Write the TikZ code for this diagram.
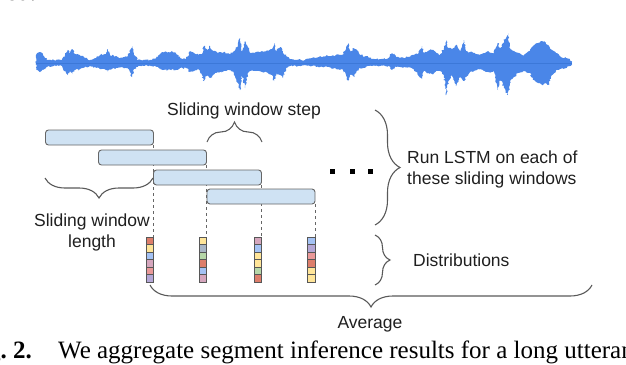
\documentclass[tikz,border=0pt]{standalone}
\usepackage{fontspec}
\setmainfont{Liberation Serif}
\setsansfont{Liberation Sans}
\usetikzlibrary{decorations.pathreplacing,decorations.pathmorphing,backgrounds}

\definecolor{waveblue}{HTML}{4A86E8}
\definecolor{wavedark}{HTML}{3C78D8}
\definecolor{boxfill}{HTML}{CFE2F3}
\definecolor{boxline}{HTML}{666666}
\definecolor{bracegray}{HTML}{595959}
\definecolor{cRed}{HTML}{DD7E6B}
\definecolor{cYellow}{HTML}{FFE599}
\definecolor{cBlue}{HTML}{A4C2F4}
\definecolor{cPink}{HTML}{D5A6BD}
\definecolor{cSalmon}{HTML}{EA9999}
\definecolor{cPurple}{HTML}{B4A7D6}
\definecolor{cSlate}{HTML}{A9B6C6}
\definecolor{cGreen}{HTML}{B6D7A8}

\tikzset{
  winbox/.style={draw=boxline, fill=boxfill, line width=0.9pt, rounded corners=3pt,
    minimum width=108pt, minimum height=15pt, inner sep=0pt, outer sep=0pt},
  cell/.style={draw=boxline!85!black, line width=0.9pt, minimum width=7.5pt,
    minimum height=7.5pt, inner sep=0pt, outer sep=0pt},
  guide/.style={draw=boxline, dashed, line width=0.7pt},
  brc/.style={draw=bracegray, line width=1.1pt, decorate, decoration={brace, amplitude=#1}},
  lbl/.style={font=\sffamily\fontsize{17.5}{21}\selectfont, text=black!88, inner sep=0pt},
  dotsq/.style={fill=black, minimum size=5pt, inner sep=0pt},
  capt/.style={font=\fontsize{25}{29}\selectfont, inner sep=0pt},
}

% envelope of the waveform: x / upper / lower
\def\wavedata{36/8/7, 40/11/9, 44/7/6, 48/3/3, 56/3/3, 62/3/3, 66/10/10, 68/13/12,
  70/10/8, 72/14/11, 75/9/7, 80/8/6, 85/5/4, 90/3/3, 95/5/4, 100/8/6, 106/10/7,
  108/14/9, 110/8/6, 116/7/5, 122/5/4, 128/7/6, 132/17/14, 134/8/6, 138/3/3,
  145/3/2, 152/3/3, 158/6/4, 163/11/7, 168/11/7, 172/12/6, 176/10/7, 180/5/5,
  186/4/5, 190/12/9, 194/10/8, 198/8/6, 202/9/12, 204/17/18, 207/13/12, 210/17/15,
  213/12/12, 218/10/9, 224/11/8, 229/9/7, 234/12/10, 238/18/20, 240/25/27,
  242/10/12, 245/22/25, 247/18/14, 250/10/8, 256/11/8, 262/12/9, 268/12/10,
  272/14/12, 274/20/18, 276/12/10, 280/16/12, 283/12/15, 286/7/5, 290/4/3,
  296/3/3, 304/3/2, 312/5/3, 320/7/4, 328/7/4, 336/8/6, 342/8/6, 346/14/12,
  348/20/18, 350/10/12, 354/15/14, 356/14/10, 360/8/5, 366/7/4, 372/4/3,
  380/4/3, 388/5/3, 392/10/7, 396/6/4, 400/5/4, 408/6/4, 414/8/6, 418/9/12,
  422/17/16, 424/10/8, 428/12/10, 432/13/11, 436/10/8, 440/8/8, 444/15/13,
  446/23/32, 448/15/20, 452/14/12, 456/18/23, 460/12/14, 464/23/18, 466/12/14,
  470/11/9, 474/10/8, 480/8/6, 484/10/8, 488/12/9, 494/10/8, 498/20/27,
  500/14/16, 504/22/25, 508/30/32, 510/15/18, 514/12/14, 518/10/10, 524/8/8,
  530/12/10, 534/18/17, 538/20/20, 542/22/22, 546/20/20, 548/18/22, 552/13/12,
  556/10/8, 560/7/6, 566/5/5, 570/3/3, 572/1/1}

\begin{document}
\begin{tikzpicture}[x=1pt,y=-1pt]
  \useasboundingbox (0,0) rectangle (626,364);
  \pgfmathsetseed{11}

  % waveform
  \fill[waveblue, decorate, decoration={random steps, segment length=1.4pt, amplitude=1pt}]
    (36,65) foreach \x/\u/\d in \wavedata {-- (\x,63-\u)} -- (572,65) -- cycle;
  \fill[waveblue, decorate, decoration={random steps, segment length=1.4pt, amplitude=1pt}]
    (36,61) foreach \x/\u/\d in \wavedata {-- (\x,63+\d)} -- (572,61) -- cycle;
  \draw[wavedark, line width=0.8pt] (36,63) -- (572,63);

  % sliding windows
  \node[winbox] (w1) at (99.5,137.5) {};
  \node[winbox] (w2) at (152.5,157.5) {};
  \node[winbox] (w3) at (207.5,177.5) {};
  \node[winbox] (w4) at (261,196.5) {};

  % distributions
  \foreach \c [count=\i] in {cRed,cYellow,cBlue,cPink,cSalmon,cPurple}
    \node[cell, fill=\c] (a-\i) at (149.75,233.25+7.5*\i) {};
  \foreach \c [count=\i] in {cYellow,cSlate,cGreen,cRed,cBlue,cPink}
    \node[cell, fill=\c] (b-\i) at (202.75,233.25+7.5*\i) {};
  \foreach \c [count=\i] in {cPink,cBlue,cYellow,cYellow,cGreen,cRed}
    \node[cell, fill=\c] (c-\i) at (257.75,233.25+7.5*\i) {};
  \foreach \c [count=\i] in {cBlue,cPurple,cSalmon,cRed,cYellow,cYellow}
    \node[cell, fill=\c] (d-\i) at (311.25,233.25+7.5*\i) {};

  \begin{scope}[on background layer]
    \draw[guide] (w1.south east) -- (a-1.north east);
    \draw[guide] (w2.south east) -- (b-1.north east);
    \draw[guide] (w3.south east) -- (c-1.north east);
    \draw[guide] (w4.south east) -- (d-1.north east);
  \end{scope}

  % dots
  \foreach \x [count=\i] in {332.5,352.5,370.5}
    \node[dotsq] (dot\i) at (\x,171.5) {};

  % braces
  \draw[brc=20pt] (207,142) -- (262,142);
  \draw[brc=20pt] (153,178) -- (45,178);
  \draw[brc=25pt] (375,110) -- (375,225);
  \draw[brc=15pt] (375,235) -- (375,285);
  \draw[brc=22pt] (592,285) -- (150,285);

  % labels
  \node[lbl, anchor=base] (steptxt) at (244,115) {Sliding window step};
  \node[lbl, anchor=base, align=center] (lentxt) at (92,247) {Sliding window\\length};
  \node[lbl, anchor=base west, align=left] (lstmtxt) at (407,184) {Run LSTM on each of\\these sliding windows};
  \node[lbl, anchor=base west] (disttxt) at (413,266) {Distributions};
  \node[lbl, anchor=base] (avgtxt) at (370,328) {Average};

  % caption fragments
  \node[capt, anchor=base west] (topcap) at (6,1) {ed.};
  \node[capt, anchor=base east] (fignum) at (32,358) {\textbf{Fig.~2.}};
  \node[capt, anchor=base west] (captxt) at (58,358) {We aggregate segment inference results for a long utterance};
\end{tikzpicture}
\end{document}
